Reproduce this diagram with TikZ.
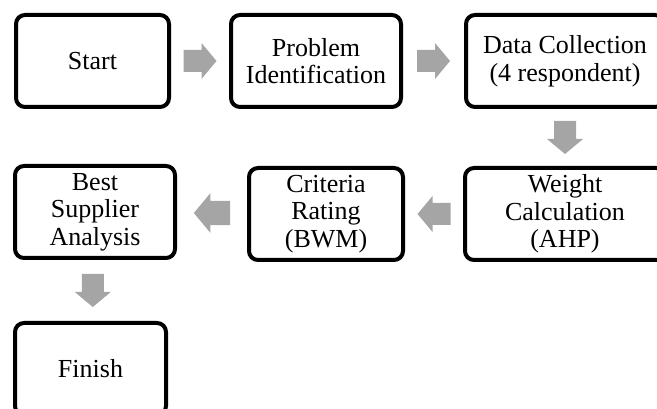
\documentclass[tikz,border=0pt]{standalone}
\usepackage{fontspec}
\setmainfont{Liberation Serif}
\usetikzlibrary{calc}
\definecolor{arrowgray}{HTML}{A5A5A5}
\tikzset{
  stepbox/.style={draw=black, line width=4pt, rounded corners=9pt, fill=white,
    align=center, inner sep=0pt, font=\fontsize{26}{27.5}\selectfont},
  blockarrow/.pic={
    \fill[arrowgray] (-16.5,-11) -- (1.5,-11) -- (1.5,-18) -- (16.5,0) -- (1.5,18) -- (1.5,11) -- (-16.5,11) -- cycle;
  }
}
\begin{document}
\begin{tikzpicture}[x=1pt,y=-1pt]
\useasboundingbox (0,0) rectangle (657,409);
\node[stepbox, minimum width=153pt, minimum height=92pt] (start) at (92.5,61) {Start};
\node[stepbox, minimum width=170pt, minimum height=92pt] (prob) at (316,61) {Problem\\Identification};
\node[stepbox, minimum width=198pt, minimum height=92pt] (data) at (565,61) {Data Collection\\(4 respondent)};
\node[stepbox, minimum width=200pt, minimum height=92pt] (weight) at (565,214) {Weight\\Calculation\\(AHP)};
\node[stepbox, minimum width=154pt, minimum height=92pt] (crit) at (326,214) {Criteria\\Rating\\(BWM)};
\node[stepbox, minimum width=160pt, minimum height=92pt] (best) at (95,212) {Best\\Supplier\\Analysis};
\node[stepbox, minimum width=151pt, minimum height=92pt] (finish) at (90.5,369) {Finish};
\pic at ($(start.east)!0.5!(prob.west)$) {blockarrow};
\pic at ($(prob.east)!0.5!(data.west)$) {blockarrow};
\pic[rotate=-90] at ($(data.south)!0.5!(weight.north)$) {blockarrow};
\pic[rotate=180] at ($(weight.west)!0.5!(crit.east)$) {blockarrow};
\pic[rotate=180, scale=1.1] at ($(crit.west)!0.5!(best.east)$) {blockarrow};
\pic[rotate=-90] at ($(best.south)!0.5!(finish.north)$) {blockarrow};
\end{tikzpicture}
\end{document}
